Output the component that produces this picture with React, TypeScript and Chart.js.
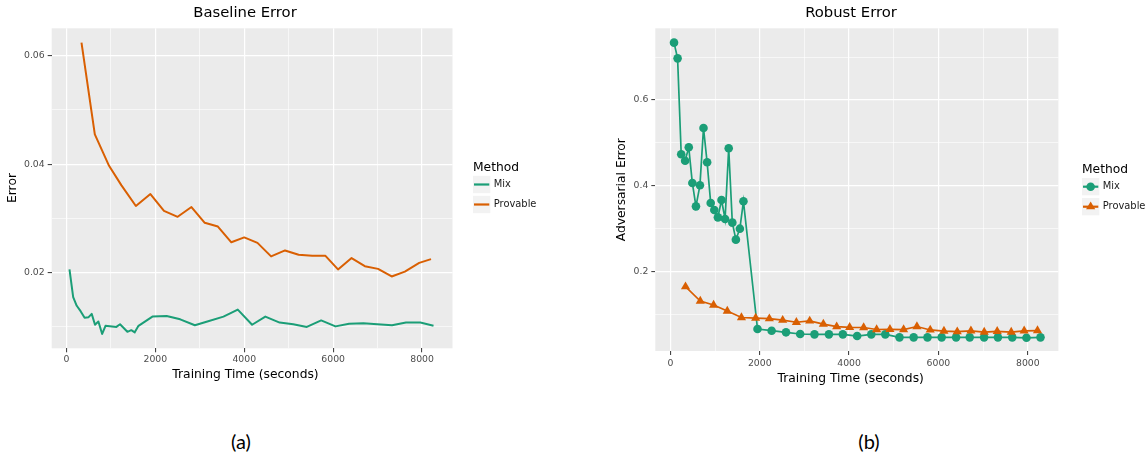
import React, { useEffect, useRef } from "react";
import { Chart, registerables } from "chart.js";

Chart.register(...registerables);

// ---------- data ----------
const baseMixTime = [70, 153, 233, 320, 410, 500, 570, 644, 720, 805, 880, 1125, 1207, 1372, 1460, 1537, 1622, 1935, 2255, 2560, 2890, 3171, 3533, 3855, 4177, 4475, 4797, 5102, 5408, 5730, 6052, 6358, 6680, 6994, 7324, 7638, 7960, 8257];
const baseMixErr = [0.0206, 0.0155, 0.0139, 0.0129, 0.0117, 0.0118, 0.0124, 0.0104, 0.0110, 0.0087, 0.0102, 0.0100, 0.0105, 0.0091, 0.0094, 0.0090, 0.0102, 0.0119, 0.0120, 0.0114, 0.0103, 0.0110, 0.0119, 0.0132, 0.0104, 0.0119, 0.0108, 0.0105, 0.0100, 0.0112, 0.0101, 0.0106, 0.0107, 0.0105, 0.0103, 0.0108, 0.0108, 0.0102];
const baseProvTime = [340, 640, 960, 1239, 1563, 1890, 2195, 2503, 2813, 3112, 3408, 3710, 4000, 4298, 4604, 4918, 5223, 5529, 5827, 6109, 6414, 6712, 7010, 7316, 7613, 7935, 8201];
const baseProvErr = [0.0624, 0.0455, 0.0397, 0.0361, 0.0323, 0.0345, 0.0314, 0.0303, 0.0321, 0.0292, 0.0285, 0.0256, 0.0265, 0.0255, 0.0230, 0.0241, 0.0233, 0.0231, 0.0231, 0.0206, 0.0227, 0.0212, 0.0207, 0.0193, 0.0202, 0.0218, 0.0225];

const robMixTime = [81, 161, 242, 330, 411, 491, 572, 661, 741, 822, 902, 983, 1063, 1144, 1224, 1305, 1386, 1466, 1555, 1635, 1950, 2266, 2588, 2905, 3225, 3548, 3860, 4180, 4497, 4810, 5128, 5445, 5755, 6072, 6395, 6700, 7022, 7331, 7652, 7970, 8284];
const robMixErr = [0.7336, 0.697, 0.4734, 0.4586, 0.4897, 0.4066, 0.3522, 0.4012, 0.5348, 0.4548, 0.36, 0.3437, 0.3266, 0.367, 0.3227, 0.4874, 0.3142, 0.2746, 0.3002, 0.3639, 0.0664, 0.0625, 0.0587, 0.0548, 0.054, 0.054, 0.054, 0.0501, 0.054, 0.054, 0.047, 0.047, 0.047, 0.047, 0.047, 0.047, 0.047, 0.047, 0.047, 0.046, 0.047];
const robProvTime = [338, 669, 967, 1273, 1590, 1909, 2215, 2513, 2820, 3118, 3424, 3722, 4012, 4326, 4616, 4914, 5220, 5518, 5816, 6123, 6421, 6727, 7025, 7315, 7629, 7919, 8217];
const robProvErr = [0.165, 0.1316, 0.1223, 0.1083, 0.0932, 0.0918, 0.0905, 0.087, 0.0822, 0.0852, 0.078, 0.0718, 0.0703, 0.07, 0.0653, 0.0656, 0.0652, 0.0722, 0.0642, 0.0617, 0.0602, 0.0622, 0.0594, 0.061, 0.0594, 0.0622, 0.0629];

// ticks
const xMajor = [0, 2000, 4000, 6000, 8000];
const xMinor = [1000, 3000, 5000, 7000];
const baseYMajor = [0.02, 0.04, 0.06];
const baseYMinor = [0.01, 0.03, 0.05];
const robYMajor = [0.2, 0.4, 0.6];
const robYMinor = [0.1, 0.3, 0.5, 0.7];

const methods = ["Mix", "Provable"];

// ---------- styling ----------
const GREEN = "#1B9E77";
const ORANGE = "#D95F02";
const FONT = '"DejaVu Sans", sans-serif';
const CIRCLE_R = 4.3;
const TRI_R = 5.3;

const isIn = (list: number[], v: number) => list.some((m) => Math.abs(m - v) < 1e-9);

function makeAxis(
  horizontal: boolean,
  min: number,
  max: number,
  major: number[],
  minor: number[],
  fmt: (v: number) => string,
  size: number,
  pad: number
) {
  const all = [...major, ...minor].sort((a, b) => a - b);
  return {
    type: "linear",
    min,
    max,
    afterBuildTicks: (s: any) => {
      s.ticks = all.map((v) => ({ value: v }));
    },
    afterFit: (s: any) => {
      if (horizontal) s.height = size;
      else s.width = size;
    },
    border: { display: false },
    grid: {
      color: "#FFFFFF",
      lineWidth: (c: any) => (c.tick && isIn(major, c.tick.value) ? 1.2 : 0.6),
      drawTicks: true,
      tickLength: 4,
      tickWidth: 1,
      tickColor: (c: any) => (c.tick && isIn(major, c.tick.value) ? "#333333" : "rgba(0,0,0,0)"),
    },
    ticks: {
      autoSkip: false,
      maxRotation: 0,
      padding: pad,
      color: "#4D4D4D",
      font: { family: FONT, size: 9.3 },
      callback: (v: any) => (isIn(major, Number(v)) ? fmt(Number(v)) : ""),
    },
  };
}

const decorPlugin = {
  id: "decor",
  beforeDraw(chart: any) {
    const { ctx, chartArea: a } = chart;
    ctx.save();
    ctx.fillStyle = "#EBEBEB";
    ctx.fillRect(a.left, a.top, a.right - a.left, a.bottom - a.top);
    ctx.restore();
  },
  afterDraw(chart: any, _args: any, o: any) {
    const ctx = chart.ctx as CanvasRenderingContext2D;
    ctx.save();
    ctx.fillStyle = "#000000";
    ctx.textAlign = "center";
    ctx.textBaseline = "middle";
    ctx.font = `14.8px ${FONT}`;
    ctx.fillText(o.title, o.titleX, o.titleY);
    ctx.font = `12.3px ${FONT}`;
    ctx.fillText(o.xTitle, o.xTitleX, o.xTitleY);
    ctx.save();
    ctx.translate(o.yTitleX, o.yTitleY);
    ctx.rotate(-Math.PI / 2);
    ctx.fillText(o.yTitle, 0, 0);
    ctx.restore();

    // legend
    ctx.textAlign = "left";
    ctx.font = `12.3px ${FONT}`;
    ctx.fillText("Method", o.legX, o.legTitleY);
    const colors = [GREEN, ORANGE];
    const K = 17.3;
    methods.forEach((m, i) => {
      const cy = o.legYs[i];
      ctx.fillStyle = "#F2F2F2";
      ctx.fillRect(o.legX, cy - K / 2, K, K);
      ctx.strokeStyle = colors[i];
      ctx.lineWidth = o.legLineW;
      ctx.beginPath();
      ctx.moveTo(o.legX + 1, cy);
      ctx.lineTo(o.legX + K - 1, cy);
      ctx.stroke();
      if (o.markers) {
        ctx.fillStyle = colors[i];
        const cx = o.legX + K / 2;
        if (i === 0) {
          ctx.beginPath();
          ctx.arc(cx, cy, CIRCLE_R, 0, Math.PI * 2);
          ctx.fill();
        } else {
          const r = TRI_R;
          ctx.beginPath();
          ctx.moveTo(cx, cy - r);
          ctx.lineTo(cx + r * Math.sin(Math.PI * 2 / 3), cy - r * Math.cos(Math.PI * 2 / 3));
          ctx.lineTo(cx - r * Math.sin(Math.PI * 2 / 3), cy - r * Math.cos(Math.PI * 2 / 3));
          ctx.closePath();
          ctx.fill();
        }
      }
      ctx.fillStyle = "#1A1A1A";
      ctx.font = `9.9px ${FONT}`;
      ctx.fillText(m, o.legX + K + 3.5, cy);
    });
    ctx.restore();
  },
};

const pts = (xs: number[], ys: number[]) => xs.map((x, i) => ({ x, y: ys[i] }));

function ChartCanvas({ left, width, height, build }: { left: number; width: number; height: number; build: () => any }) {
  const ref = useRef<HTMLCanvasElement | null>(null);
  useEffect(() => {
    if (!ref.current) return;
    const chart = new Chart(ref.current, build());
    return () => chart.destroy();
  }, []);
  return (
    <canvas
      ref={ref}
      width={width}
      height={height}
      style={{ position: "absolute", left, top: 0, width, height }}
    />
  );
}

function baselineConfig() {
  return {
    type: "line",
    data: {
      datasets: [
        {
          label: "Provable",
          data: pts(baseProvTime, baseProvErr),
          borderColor: ORANGE,
          borderWidth: 2,
          pointRadius: 0,
          tension: 0,
          fill: false,
          borderJoinStyle: "round",
          order: 0,
        },
        {
          label: "Mix",
          data: pts(baseMixTime, baseMixErr),
          borderColor: GREEN,
          borderWidth: 2,
          pointRadius: 0,
          tension: 0,
          fill: false,
          borderJoinStyle: "round",
          order: 1,
        },
      ],
    },
    options: {
      responsive: false,
      animation: false,
      devicePixelRatio: 1,
      events: [],
      layout: { padding: { top: 28.3, right: 570 - 452.5, left: 0, bottom: 0 } },
      scales: {
        x: makeAxis(true, -330, 8684, xMajor, xMinor, (v) => String(Math.round(v)), 400 - 348.3, 2),
        y: makeAxis(false, 0.00606, 0.06505, baseYMajor, baseYMinor, (v) => v.toFixed(2), 51.7, 3),
      },
      plugins: {
        legend: { display: false },
        tooltip: { enabled: false },
        decor: {
          title: "Baseline Error",
          titleX: 245,
          titleY: 13.5,
          xTitle: "Training Time (seconds)",
          xTitleX: 245.5,
          xTitleY: 375,
          yTitle: "Error",
          yTitleX: 13,
          yTitleY: 188,
          legX: 473,
          legTitleY: 167.5,
          legYs: [184.5, 204.5],
          legLineW: 2.2,
          markers: false,
        },
      },
    },
    plugins: [decorPlugin],
  };
}

function robustConfig() {
  const off = 580;
  return {
    type: "line",
    data: {
      datasets: [
        {
          label: "Provable",
          data: pts(robProvTime, robProvErr),
          borderColor: ORANGE,
          backgroundColor: ORANGE,
          borderWidth: 1.7,
          pointRadius: TRI_R,
          pointStyle: "triangle",
          pointBorderWidth: 0,
          tension: 0,
          fill: false,
          order: 0,
        },
        {
          label: "Mix",
          data: pts(robMixTime, robMixErr),
          borderColor: GREEN,
          backgroundColor: GREEN,
          borderWidth: 1.7,
          pointRadius: CIRCLE_R,
          pointStyle: "circle",
          pointBorderWidth: 0,
          tension: 0,
          fill: false,
          order: 1,
        },
      ],
    },
    options: {
      responsive: false,
      animation: false,
      devicePixelRatio: 1,
      events: [],
      layout: { padding: { top: 28.3, right: 566 - (1058.4 - off), left: 0, bottom: 0 } },
      scales: {
        x: makeAxis(true, -338, 8685, xMajor, xMinor, (v) => String(Math.round(v)), 400 - 351, 3),
        y: makeAxis(false, 0.0152, 0.767, robYMajor, robYMinor, (v) => v.toFixed(1), 655.3 - off, 3),
      },
      plugins: {
        legend: { display: false },
        tooltip: { enabled: false },
        decor: {
          title: "Robust Error",
          titleX: 851 - off,
          titleY: 13.5,
          xTitle: "Training Time (seconds)",
          xTitleX: 850.7 - off,
          xTitleY: 379,
          yTitle: "Adversarial Error",
          yTitleX: 622 - off,
          yTitleY: 189.7,
          legX: 1082 - off,
          legTitleY: 170,
          legYs: [186.7, 206.7],
          legLineW: 2.2,
          markers: true,
        },
      },
    },
    plugins: [decorPlugin],
  };
}

export default function App() {
  return (
    <div
      style={{
        position: "fixed",
        left: 0,
        top: 0,
        width: 1146,
        height: 452,
        background: "#FFFFFF",
        overflow: "hidden",
      }}
    >
      <ChartCanvas left={0} width={570} height={400} build={baselineConfig} />
      <ChartCanvas left={580} width={566} height={400} build={robustConfig} />
      <div
        style={{
          position: "absolute",
          left: 201,
          width: 80,
          top: 428,
          textAlign: "center",
          fontFamily: "Lato, 'Open Sans', sans-serif",
          fontSize: 20,
          lineHeight: "26px",
          color: "#000",
        }}
      >
        (a)
      </div>
      <div
        style={{
          position: "absolute",
          left: 829,
          width: 80,
          top: 428,
          textAlign: "center",
          fontFamily: "Lato, 'Open Sans', sans-serif",
          fontSize: 20,
          lineHeight: "26px",
          color: "#000",
        }}
      >
        (b)
      </div>
    </div>
  );
}
